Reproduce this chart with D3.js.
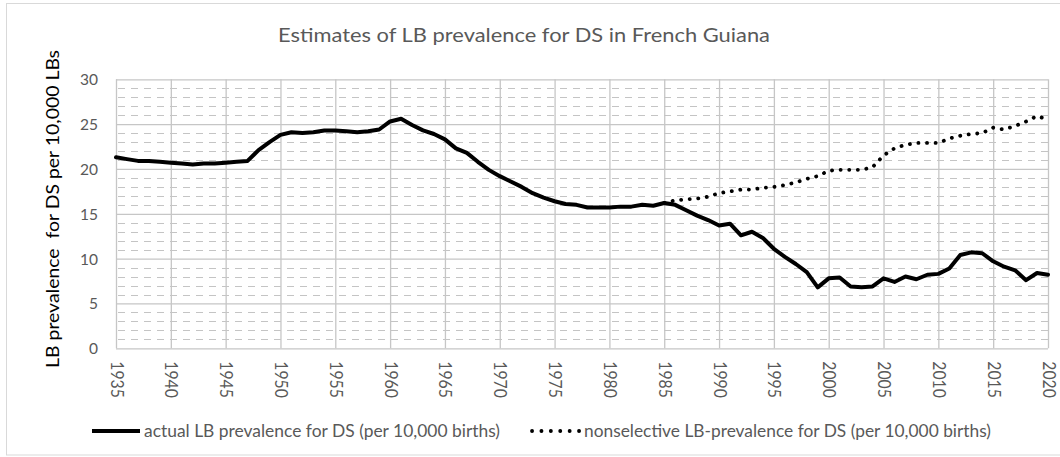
<!DOCTYPE html>
<html>
<head>
<meta charset="utf-8">
<script src="https://cdn.jsdelivr.net/npm/d3@7"></script>
<style>
  html, body { margin: 0; padding: 0; background: #ffffff; }
  svg { display: block; }
  text { font-family: "Lato", "Open Sans", sans-serif; }
</style>
</head>
<body>
<svg id="chart" width="1060" height="457"></svg>
<script>
// ---- data ----
const title = "Estimates of LB prevalence for DS in French Guiana";
const yAxisLabel = "LB prevalence  for DS per 10,000 LBs";
const seriesNames = [
  "actual LB prevalence for DS (per 10,000 births)",
  "nonselective LB-prevalence for DS (per 10,000 births)"
];
const years = d3.range(1935, 2021);
const actual = [
  21.3, 21.1, 20.9, 20.9, 20.8, 20.7, 20.6, 20.5, 20.6, 20.6,   // 1935-1944
  20.7, 20.8, 20.9, 22.1, 23.0, 23.8, 24.1, 24.0, 24.1, 24.3,   // 1945-1954
  24.3, 24.2, 24.1, 24.2, 24.4, 25.3, 25.6, 24.9, 24.3, 23.9,   // 1955-1964
  23.3, 22.3, 21.8, 20.8, 19.9, 19.2, 18.6, 18.0, 17.3, 16.8,   // 1965-1974
  16.4, 16.1, 16.0, 15.7, 15.7, 15.7, 15.8, 15.8, 16.0, 15.9,   // 1975-1984
  16.2, 16.0, 15.4, 14.8, 14.3, 13.7, 13.9, 12.6, 13.0, 12.3,   // 1985-1994
  11.1, 10.2, 9.4, 8.5, 6.8, 7.8, 7.9, 6.9, 6.8, 6.9,           // 1995-2004
  7.8, 7.4, 8.0, 7.7, 8.2, 8.3, 8.9, 10.4, 10.7, 10.6,          // 2005-2014
  9.7, 9.1, 8.7, 7.6, 8.4, 8.2                                  // 2015-2020
];
const nonselectiveYears = d3.range(1985, 2021);
const nonselective = [
  16.2, 16.5, 16.6, 16.7, 16.9, 17.3, 17.5, 17.7, 17.7, 17.9,   // 1985-1994
  18.0, 18.2, 18.5, 18.9, 19.2, 19.8, 19.9, 19.9, 19.9, 20.2,   // 1995-2004
  21.5, 22.3, 22.7, 22.9, 22.9, 22.9, 23.4, 23.7, 23.9, 24.0,   // 2005-2014
  24.6, 24.4, 24.8, 25.3, 25.9, 25.5                            // 2015-2020
];
const xTicks = d3.range(1935, 2021, 5);
const yTicks = [0, 5, 10, 15, 20, 25, 30];
const yMinor = d3.range(1, 30).filter(v => v % 5 !== 0);

// ---- layout ----
const svg = d3.select("#chart");
const pL = 116, pR = 1048, pT = 79.3, pB = 348.3;
const x = d3.scaleLinear().domain([1935, 2020]).range([pL, pR]);
const y = d3.scaleLinear().domain([0, 30]).range([pB, pT]);

const gray = "#595959";
// squeeze/stretch a text to a target width (mimics the narrower original font)
function fitLen(sel, target) {
  sel.attr("textLength", target).attr("lengthAdjust", "spacingAndGlyphs");
}

// chart border
svg.append("rect")
  .attr("x", 6.5).attr("y", 3.5)
  .attr("width", 1060).attr("height", 451.5)
  .attr("fill", "none").attr("stroke", "#d9d9d9").attr("stroke-width", 1);

// minor dashed horizontal gridlines
svg.append("g").selectAll("line").data(yMinor).join("line")
  .attr("x1", pL + 2).attr("x2", pR)
  .attr("y1", d => Math.round(y(d)) + 0.5).attr("y2", d => Math.round(y(d)) + 0.5)
  .attr("stroke", "#c4c4c4").attr("stroke-width", 1.2)
  .attr("stroke-dasharray", "7,6");

// major gridlines via axes
const yGrid = d3.axisLeft(y).tickValues(yTicks).tickSize(-(pR - pL)).tickFormat("");
const gy = svg.append("g").attr("transform", `translate(${pL},0)`).call(yGrid);
gy.select(".domain").remove();
gy.selectAll("line").attr("stroke", "#c6c6c6").attr("stroke-width", 1.3);

const xGrid = d3.axisBottom(x).tickValues(xTicks).tickSize(-(pB - pT)).tickFormat("");
const gx = svg.append("g").attr("transform", `translate(0,${pB})`).call(xGrid);
gx.select(".domain").remove();
gx.selectAll("line").attr("stroke", "#c6c6c6").attr("stroke-width", 1.3);

// y tick labels
const yAxis = d3.axisLeft(y).tickValues(yTicks).tickSize(0).tickPadding(0);
const gyl = svg.append("g").attr("transform", `translate(98,0)`).call(yAxis);
gyl.select(".domain").remove();
gyl.selectAll("text")
  .attr("font-size", 15.5).attr("fill", gray)
  .style("font-family", "Lato, 'Open Sans', sans-serif")
  .attr("dy", "0.35em").attr("x", 0)
  .each(function(d) { d3.select(this).attr("textLength", String(d).length * 9).attr("lengthAdjust", "spacingAndGlyphs"); });

// x tick labels (rotated, reading downward)
const xAxis = d3.axisBottom(x).tickValues(xTicks).tickSize(0).tickPadding(0).tickFormat(d3.format("d"));
const gxl = svg.append("g").attr("transform", `translate(0,${pB})`).call(xAxis);
gxl.select(".domain").remove();
gxl.selectAll("text")
  .attr("font-size", 16.5).attr("fill", gray)
  .style("font-family", "Lato, 'Open Sans', sans-serif")
  .attr("y", 0).attr("dy", null)
  .attr("text-anchor", "start")
  .attr("dominant-baseline", "central")
  .attr("transform", "translate(0,13) rotate(90)")
  .attr("textLength", 36.5).attr("lengthAdjust", "spacingAndGlyphs");

// lines
const line = d3.line().x(d => x(d[0])).y(d => y(d[1]));
svg.append("path")
  .datum(years.map((yr, i) => [yr, actual[i]]))
  .attr("d", line)
  .attr("fill", "none").attr("stroke", "#000").attr("stroke-width", 4)
  .attr("stroke-linejoin", "round").attr("stroke-linecap", "round");

svg.append("path")
  .datum(nonselectiveYears.map((yr, i) => [yr, nonselective[i]]))
  .attr("d", line)
  .attr("fill", "none").attr("stroke", "#000").attr("stroke-width", 3.8)
  .attr("stroke-linecap", "round")
  .attr("stroke-dasharray", "0.1,8.5");

// title
const tt = svg.append("text")
  .attr("x", 524).attr("y", 42)
  .attr("text-anchor", "middle")
  .attr("font-size", 20).attr("fill", gray)
  .text(title);
fitLen(tt, 492);

// y axis label
const yl = svg.append("text")
  .attr("transform", "translate(59,209) rotate(-90)")
  .attr("text-anchor", "middle")
  .attr("font-size", 17.5).attr("fill", "#000")
  .style("white-space", "pre")
  .attr("xml:space", "preserve")
  .text(yAxisLabel);
fitLen(yl, 318);

// legend
const legY = 431;
svg.append("line")
  .attr("x1", 92).attr("x2", 140).attr("y1", legY).attr("y2", legY)
  .attr("stroke", "#000").attr("stroke-width", 4);
const lt1 = svg.append("text")
  .attr("x", 144).attr("y", legY).attr("dy", "0.35em")
  .attr("font-size", 16.5).attr("fill", gray)
  .text(seriesNames[0]);
fitLen(lt1, 356);

svg.append("line")
  .attr("x1", 532).attr("x2", 580).attr("y1", legY).attr("y2", legY)
  .attr("stroke", "#000").attr("stroke-width", 3.8)
  .attr("stroke-linecap", "round").attr("stroke-dasharray", "0.1,9.3");
const lt2 = svg.append("text")
  .attr("x", 584).attr("y", legY).attr("dy", "0.35em")
  .attr("font-size", 16.5).attr("fill", gray)
  .text(seriesNames[1]);
fitLen(lt2, 407);
</script>
</body>
</html>
